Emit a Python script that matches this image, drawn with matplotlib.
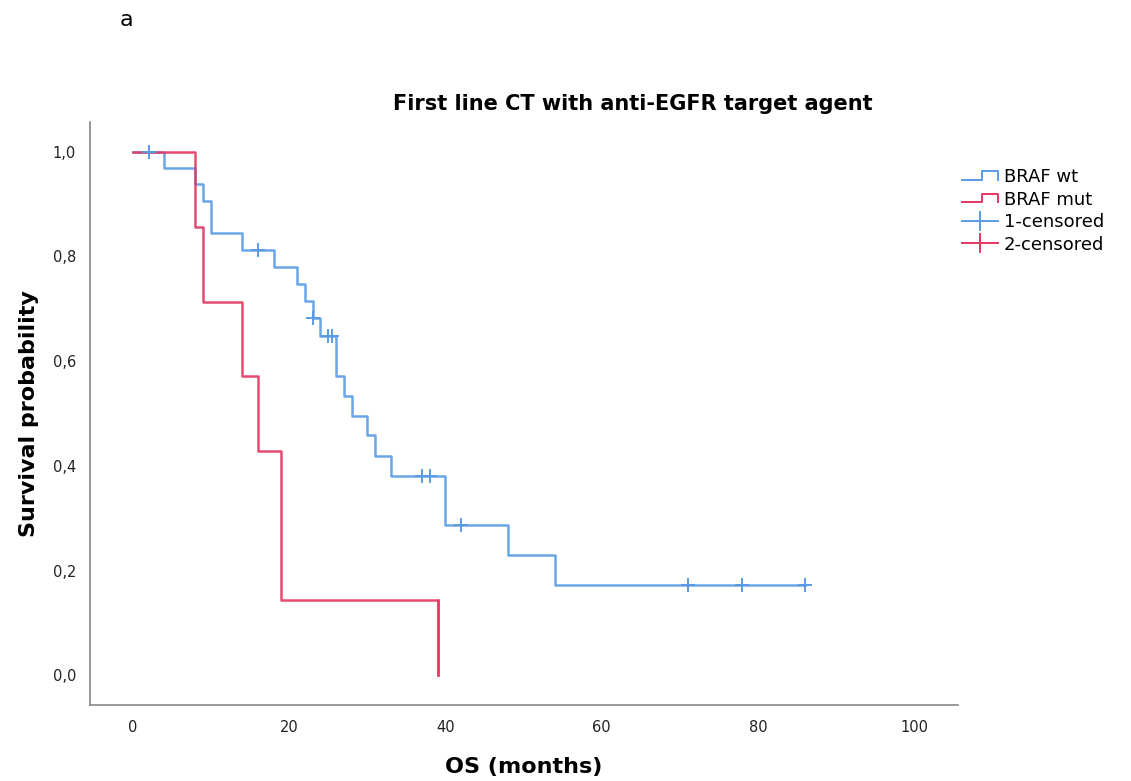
import matplotlib
matplotlib.use("Agg")
import matplotlib.pyplot as plt
from matplotlib.lines import Line2D
from matplotlib.legend_handler import HandlerBase

# ---- data ----
wt_times = [0, 4, 8, 9, 10, 14, 18, 21, 22, 23, 24, 26, 27, 28, 30, 31, 33, 40, 48, 54, 86]
wt_surv = [1.0, 0.969, 0.938, 0.906, 0.844, 0.813, 0.780, 0.748, 0.715, 0.683, 0.648, 0.572, 0.534, 0.496, 0.458, 0.419, 0.381, 0.286, 0.229, 0.172, 0.172]
wt_cens_t = [2, 16, 23, 25, 25.5, 37, 38, 42, 71, 78, 86]

mut_times = [0, 8, 9, 14, 16, 19, 39]
mut_surv = [1.0, 0.857, 0.714, 0.571, 0.429, 0.143, 0.0]
mut_cens_t = []

x_ticks = [0, 20, 40, 60, 80, 100]
y_ticks = [0.0, 0.2, 0.4, 0.6, 0.8, 1.0]
y_ticklabels = ["0,0", "0,2", "0,4", "0,6", "0,8", "1,0"]

BLUE = "#5a9be6"
RED = "#e33760"


def surv_at(times, surv, t):
    s = surv[0]
    for ti, si in zip(times, surv):
        if ti <= t:
            s = si
    return s


fig = plt.figure(figsize=(11.31, 7.81), dpi=100)
ax = fig.add_axes([90 / 1131, 1 - 705 / 781, (958 - 90) / 1131, (705 - 122) / 781])

ax.step(wt_times, wt_surv, where="post", color=BLUE, lw=1.8, alpha=0.9)
ax.step(mut_times, mut_surv, where="post", color=RED, lw=1.8, alpha=0.9)
# red curve drops to zero at the last event
ax.plot([mut_times[-1], mut_times[-1]], [mut_surv[-2], mut_surv[-1]], color=RED, lw=1.8, alpha=0.9)

ax.plot(wt_cens_t, [surv_at(wt_times, wt_surv, t) for t in wt_cens_t],
        linestyle="none", marker="+", markersize=10, mew=1.4, color=BLUE)
if mut_cens_t:
    ax.plot(mut_cens_t, [surv_at(mut_times, mut_surv, t) for t in mut_cens_t],
            linestyle="none", marker="+", markersize=10, mew=1.4, color=RED)

ax.set_xlim(-5.5, 105.6)
ax.set_ylim(-0.057, 1.057)
ax.set_xticks(x_ticks)
ax.set_xticklabels([str(v) for v in x_ticks])
ax.set_yticks(y_ticks)
ax.set_yticklabels(y_ticklabels)
ax.tick_params(length=0, labelsize=10.5, colors="#222222")
ax.tick_params(axis="y", pad=10)
ax.tick_params(axis="x", pad=11)
for s in ["top", "right"]:
    ax.spines[s].set_visible(False)
for s in ["left", "bottom"]:
    ax.spines[s].set_color("#888888")
    ax.spines[s].set_linewidth(1.2)

ax.set_title("First line CT with anti-EGFR target agent", fontsize=15, fontweight="bold", pad=9, x=0.625)
ax.set_xlabel("OS (months)", fontsize=16, fontweight="bold", labelpad=16)
ax.set_ylabel("Survival probability", fontsize=16, fontweight="bold", labelpad=10)

fig.text(120 / 1131, 1 - 20 / 781, "a", fontsize=16, va="center", ha="left")


class StepHandler(HandlerBase):
    def create_artists(self, legend, orig_handle, xdescent, ydescent, width, height, fontsize, trans):
        c = orig_handle.get_color()
        xs = [0, width * 0.55, width * 0.55, width, width]
        ys = [height * 0.2, height * 0.2, height * 0.85, height * 0.85, height * 0.2]
        ln = Line2D([x - xdescent for x in xs], [y - ydescent for y in ys],
                    color=c, lw=1.4, transform=trans)
        return [ln]


class CensHandler(HandlerBase):
    def create_artists(self, legend, orig_handle, xdescent, ydescent, width, height, fontsize, trans):
        c = orig_handle.get_color()
        ln = Line2D([-xdescent, width - xdescent], [height / 2 - ydescent] * 2, color=c, lw=1.4, transform=trans)
        v = Line2D([width / 2 - xdescent] * 2, [-0.2 * height - ydescent, 1.2 * height - ydescent], color=c, lw=1.4, transform=trans)
        return [ln, v]


h_wt = Line2D([], [], color=BLUE)
h_mut = Line2D([], [], color=RED)
h_c1 = Line2D([], [], color=BLUE)
h_c2 = Line2D([], [], color=RED)
leg = fig.legend([h_wt, h_mut, h_c1, h_c2], ["BRAF wt", "BRAF mut", "1-censored", "2-censored"],
                 handler_map={h_wt: StepHandler(), h_mut: StepHandler(), h_c1: CensHandler(), h_c2: CensHandler()},
                 loc="upper left", bbox_to_anchor=(953 / 1131, 1 - 159 / 781), frameon=False,
                 fontsize=13, handlelength=2.0, handletextpad=0.3, labelspacing=0.25, borderpad=0)

fig.savefig("out.png", dpi=100)
